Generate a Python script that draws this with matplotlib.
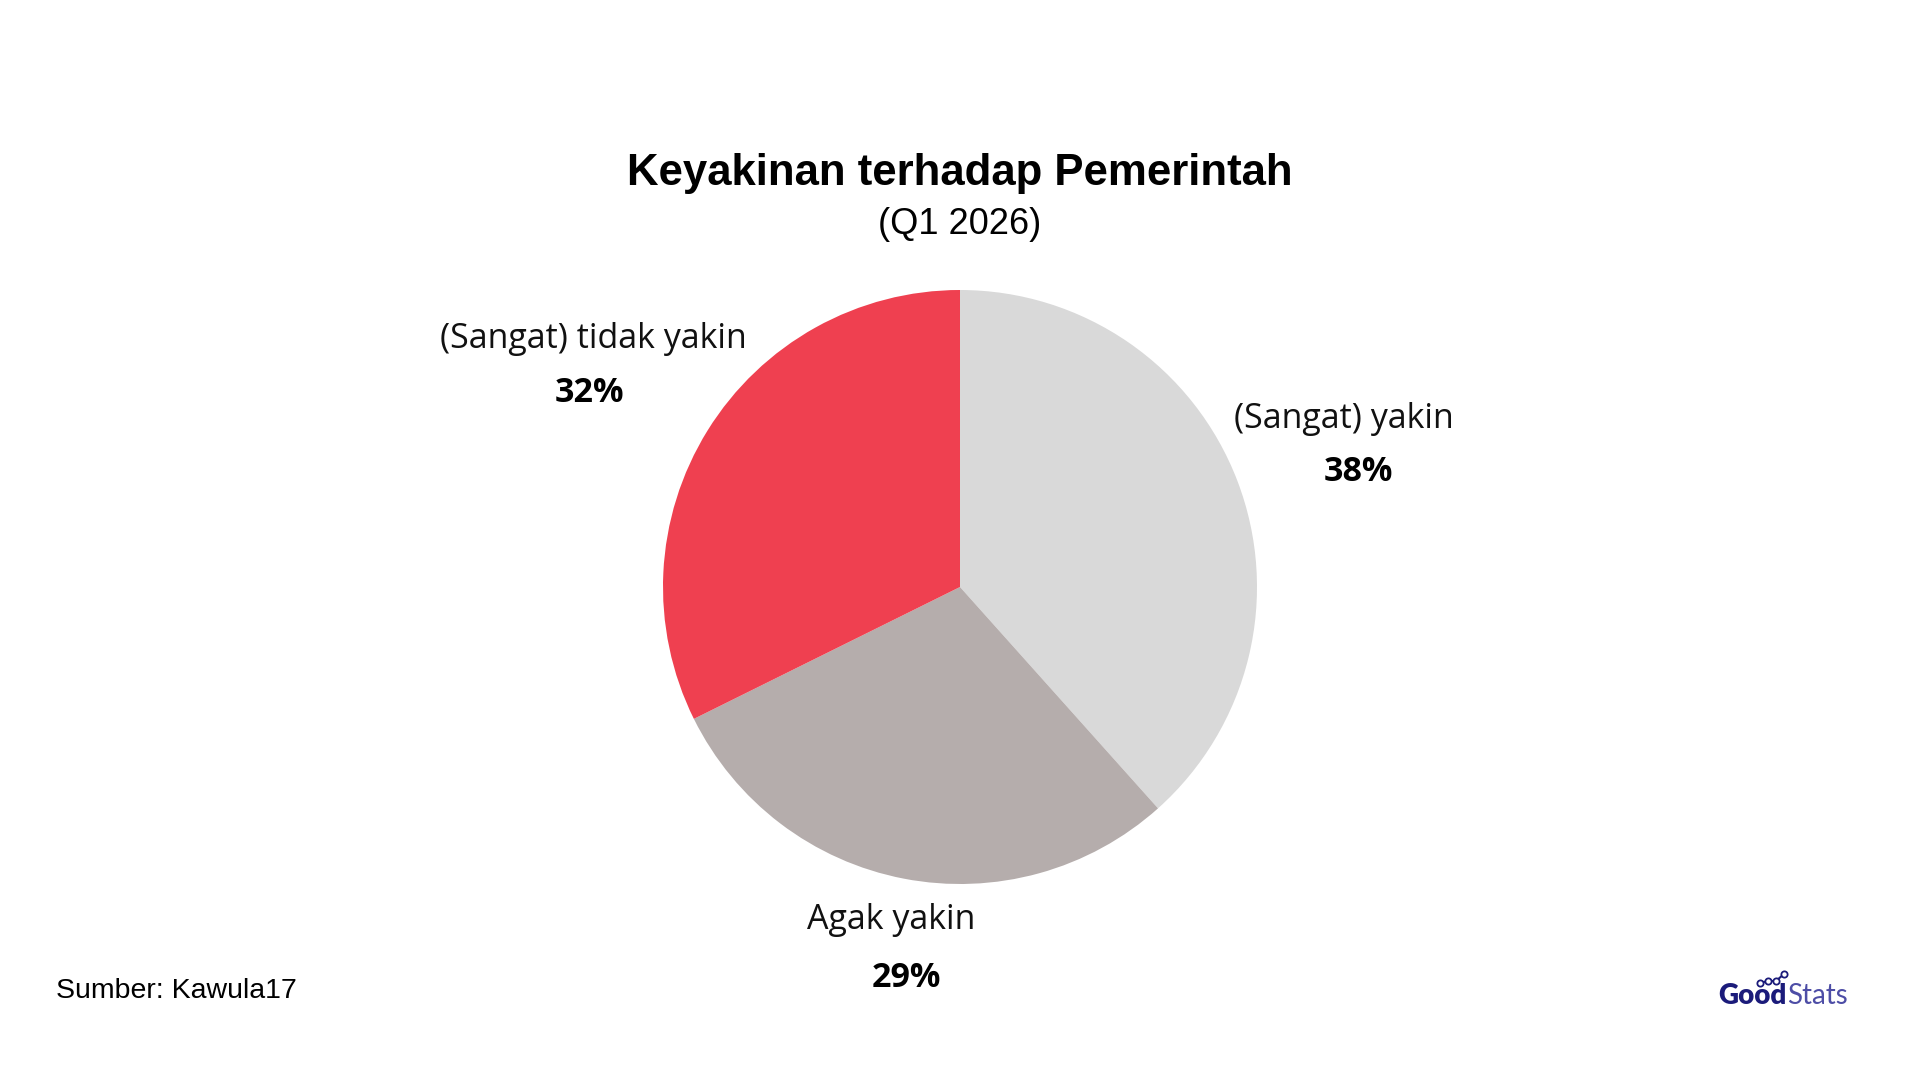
import matplotlib
matplotlib.use("Agg")
import matplotlib.pyplot as plt
from matplotlib.lines import Line2D

# Data
categories = ["(Sangat) yakin", "Agak yakin", "(Sangat) tidak yakin"]
values = [38, 29, 32]
pct_labels = ["38%", "29%", "32%"]
colors = ["#d9d9d9", "#b5adac", "#ef4050"]

title = "Keyakinan terhadap Pemerintah"
subtitle = "(Q1 2026)"
source = "Sumber: Kawula17"

W, H = 1920, 1080
fig = plt.figure(figsize=(19.2, 10.8), dpi=100)
fig.patch.set_facecolor("white")
ax = fig.add_axes([0, 0, 1, 1])

cx, cy, r = 960, H - 587, 297
ax.pie(values, colors=colors, startangle=90, counterclock=False,
       center=(cx, cy), radius=r, frame=True,
       wedgeprops=dict(linewidth=0))
ax.set_xlim(0, W)
ax.set_ylim(0, H)
ax.set_aspect("equal")
ax.axis("off")

def T(x, y, s, **kw):
    return ax.text(x, H - y, s, **kw)

T(960, 174, title, ha="center", va="center", fontsize=31.5, fontweight="bold",
  family="Liberation Sans", color="#000000")
T(960, 225, subtitle, ha="center", va="center", fontsize=26,
  family="Liberation Sans", color="#000000")

label_pos = [(1344, 419, 1358, 472), (891, 920, 906, 978), (593, 339, 589, 393)]
for cat, pl, (lx, ly, px, py) in zip(categories, pct_labels, label_pos):
    T(lx, ly, cat, ha="center", va="center", fontsize=24.5, family="Open Sans", color="#111111")
    T(px, py, pl, ha="center", va="center", fontsize=24.5, fontweight="bold",
      family="Open Sans", color="#000000")

T(56, 991, source, ha="left", va="center", fontsize=20.5, family="Liberation Sans", color="#000000")

# Logo
T(1718, 996, "Good", ha="left", va="center", fontsize=20, fontweight="heavy",
  family="Lato", color="#1b1b7a")
T(1787, 996, "Stats", ha="left", va="center", fontsize=20, fontweight="normal",
  family="Lato", color="#4d4da6")
lx = [1760, 1768, 1776, 1784]
ly = [H - 983, H - 981, H - 981, H - 974]
ax.add_line(Line2D(lx, ly, color="#1b1b7a", lw=1.5, marker="o", markersize=4.5,
                   markerfacecolor="white", markeredgecolor="#1b1b7a", markeredgewidth=1.3))

fig.savefig("out.png", dpi=100, facecolor="white")
